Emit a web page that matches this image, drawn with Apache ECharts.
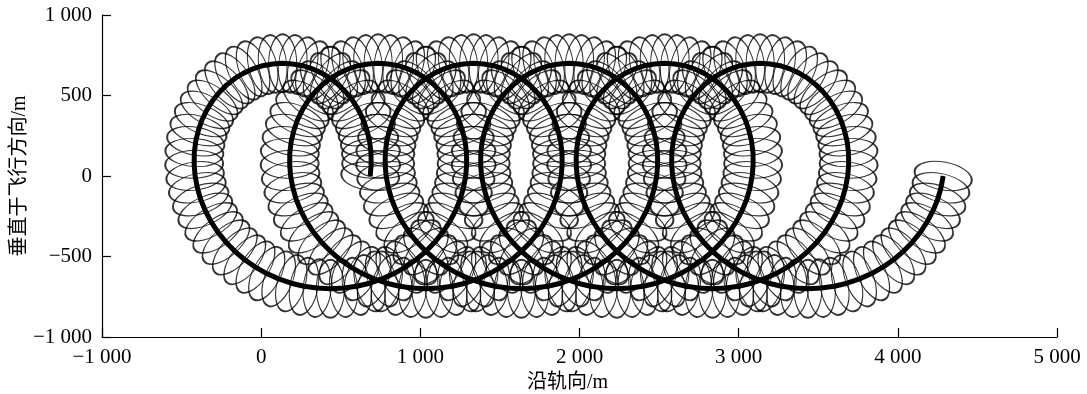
<!DOCTYPE html>
<html>
<head>
<meta charset="utf-8">
<script src="https://cdn.jsdelivr.net/npm/echarts@6/dist/echarts.min.js"></script>
<style>
html,body{margin:0;padding:0;background:#fff;}
#chart{width:1087px;height:394px;}
</style>
</head>
<body>
<div id="chart"></div>
<script>
// Centre track of the scan (thick line); small ellipses are centred on each point.
var alongTrack = [
4285,4271,4250,4221,4184,4141,4091,4035,3973,3906,3835,3760,3681,3601,3518,3435,3352,3269,3189,3110,3035,2964,2897,2835,2779,2729,2686,2649,2620,2599,2585,2579,2580,2589,2606,2629,2659,2695,2737,2784,2835,2890,2949,3009,3072,3135,3198,3261,3321,3380,3435,3486,3533,3575,3611,3641,3664,3681,3690,3691,
3685,3671,3650,3621,3584,3541,3491,3435,3373,3306,3235,3160,3081,3001,2918,2835,2752,2669,2589,2510,2435,2364,2297,2235,2179,2129,2086,2049,2020,1999,1985,1979,1980,1989,2006,2029,2059,2095,2137,2184,2235,2290,2349,2409,2472,2535,2598,2661,2721,2780,2835,2886,2933,2975,3011,3041,3064,3081,3090,3091,
3085,3071,3050,3021,2984,2941,2891,2835,2773,2706,2635,2560,2481,2401,2318,2235,2152,2069,1989,1910,1835,1764,1697,1635,1579,1529,1486,1449,1420,1399,1385,1379,1380,1389,1406,1429,1459,1495,1537,1584,1635,1690,1749,1809,1872,1935,1998,2061,2121,2180,2235,2286,2333,2375,2411,2441,2464,2481,2490,2491,
2485,2471,2450,2421,2384,2341,2291,2235,2173,2106,2035,1960,1881,1801,1718,1635,1552,1469,1389,1310,1235,1164,1097,1035,979,929,886,849,820,799,785,779,780,789,806,829,859,895,937,984,1035,1090,1149,1209,1272,1335,1398,1461,1521,1580,1635,1686,1733,1775,1811,1841,1864,1881,1890,1891,
1885,1871,1850,1821,1784,1741,1691,1635,1573,1506,1435,1360,1281,1201,1118,1035,952,869,789,710,635,564,497,435,379,329,286,249,220,199,185,179,180,189,206,229,259,295,337,384,435,490,549,609,672,735,798,861,921,980,1035,1086,1133,1175,1211,1241,1264,1281,1290,1291,
1285,1271,1250,1221,1184,1141,1091,1035,973,906,835,760,681,601,518,435,352,269,189,110,35,-36,-103,-165,-221,-271,-314,-351,-380,-401,-415,-421,-420,-411,-394,-371,-341,-305,-263,-216,-165,-110,-51,9,72,135,198,261,321,380,435,486,533,575,611,641,664,681,690,691,
685
];
var crossTrack = [
0,-73,-146,-216,-285,-350,-411,-468,-520,-566,-606,-639,-666,-685,-696,-700,-696,-685,-666,-639,-606,-566,-520,-468,-411,-350,-285,-216,-146,-73,0,73,146,216,285,350,411,468,520,566,606,639,666,685,696,700,696,685,666,639,606,566,520,468,411,350,285,216,146,73,
0,-73,-146,-216,-285,-350,-411,-468,-520,-566,-606,-639,-666,-685,-696,-700,-696,-685,-666,-639,-606,-566,-520,-468,-411,-350,-285,-216,-146,-73,0,73,146,216,285,350,411,468,520,566,606,639,666,685,696,700,696,685,666,639,606,566,520,468,411,350,285,216,146,73,
0,-73,-146,-216,-285,-350,-411,-468,-520,-566,-606,-639,-666,-685,-696,-700,-696,-685,-666,-639,-606,-566,-520,-468,-411,-350,-285,-216,-146,-73,0,73,146,216,285,350,411,468,520,566,606,639,666,685,696,700,696,685,666,639,606,566,520,468,411,350,285,216,146,73,
0,-73,-146,-216,-285,-350,-411,-468,-520,-566,-606,-639,-666,-685,-696,-700,-696,-685,-666,-639,-606,-566,-520,-468,-411,-350,-285,-216,-146,-73,0,73,146,216,285,350,411,468,520,566,606,639,666,685,696,700,696,685,666,639,606,566,520,468,411,350,285,216,146,73,
0,-73,-146,-216,-285,-350,-411,-468,-520,-566,-606,-639,-666,-685,-696,-700,-696,-685,-666,-639,-606,-566,-520,-468,-411,-350,-285,-216,-146,-73,0,73,146,216,285,350,411,468,520,566,606,639,666,685,696,700,696,685,666,639,606,566,520,468,411,350,285,216,146,73,
0,-73,-146,-216,-285,-350,-411,-468,-520,-566,-606,-639,-666,-685,-696,-700,-696,-685,-666,-639,-606,-566,-520,-468,-411,-350,-285,-216,-146,-73,0,73,146,216,285,350,411,468,520,566,606,639,666,685,696,700,696,685,666,639,606,566,520,468,411,350,285,216,146,73,
0
];
var xTickValues = [-1000, 0, 1000, 2000, 3000, 4000, 5000];
var xTickLabels = ['\u22121 000', '0', '1 000', '2 000', '3 000', '4 000', '5 000'];
var yTickValues = [-1000, -500, 0, 500, 1000];
var yTickLabels = ['\u22121 000', '\u2212500', '0', '500', '1 000'];
var xAxisTitle = '沿轨向/m';
var yAxisTitle = '垂直于飞行方向/m';

var n = Math.min(alongTrack.length, crossTrack.length);
var trackData = [];
var ringData = [];
for (var i = 0; i < n; i++) {
  trackData.push([alongTrack[i], crossTrack[i]]);
  var a = Math.max(0, i - 1), b = Math.min(n - 1, i + 1);
  var ang = Math.atan2(crossTrack[b] - crossTrack[a], alongTrack[b] - alongTrack[a]) * 180 / Math.PI;
  ringData.push({ value: [alongTrack[i], crossTrack[i]], symbolRotate: ang });
}

function lab(values, labels) {
  return function (v) {
    for (var k = 0; k < values.length; k++) if (Math.abs(values[k] - v) < 1e-6) return labels[k];
    return '';
  };
}
var font = '"Liberation Serif", "Noto Sans CJK SC", serif';
var chart = echarts.init(document.getElementById('chart'), null, { renderer: 'canvas' });
chart.setOption({
  animation: false,
  backgroundColor: '#ffffff',
  grid: { left: 102, right: 30, top: 15, bottom: 57, containLabel: false, outerBoundsMode: 'none' },
  xAxis: {
    type: 'value', min: -1000, max: 5000, interval: 1000,
    name: xAxisTitle, nameLocation: 'middle', nameGap: 36, nameMoveOverlap: false,
    nameTextStyle: { fontFamily: font, fontSize: 20, color: '#000', padding: [0, 24, 0, 0] },
    axisLine: { show: true, onZero: false, lineStyle: { color: '#000', width: 1.2 } },
    axisTick: { show: true, inside: true, length: 9, lineStyle: { color: '#000', width: 1.2 } },
    axisLabel: { fontFamily: font, fontSize: 21, color: '#000', margin: 10, formatter: lab(xTickValues, xTickLabels) },
    splitLine: { show: false }
  },
  yAxis: {
    type: 'value', min: -1000, max: 1000, interval: 500,
    name: yAxisTitle, nameLocation: 'middle', nameGap: 72, nameRotate: 90, nameMoveOverlap: false,
    nameTextStyle: { fontFamily: font, fontSize: 20, color: '#000' },
    axisLine: { show: true, onZero: false, lineStyle: { color: '#000', width: 1.2 } },
    axisTick: { show: true, inside: true, length: 9, lineStyle: { color: '#000', width: 1.2 } },
    axisLabel: { fontFamily: font, fontSize: 21, color: '#000', margin: 10, formatter: lab(yTickValues, yTickLabels) },
    splitLine: { show: false }
  },
  series: [
    {
      type: 'scatter',
      data: ringData,
      symbol: 'circle',
      symbolSize: [28, 58],
      itemStyle: { color: 'rgba(0,0,0,0)', borderColor: '#000', borderWidth: 1.4 },
      emphasis: { disabled: true },
      silent: true,
      z: 2
    },
    {
      type: 'line',
      data: trackData,
      showSymbol: false,
      smooth: false,
      lineStyle: { color: '#000', width: 5 },
      emphasis: { disabled: true },
      silent: true,
      z: 3
    }
  ]
});
</script>
</body>
</html>
